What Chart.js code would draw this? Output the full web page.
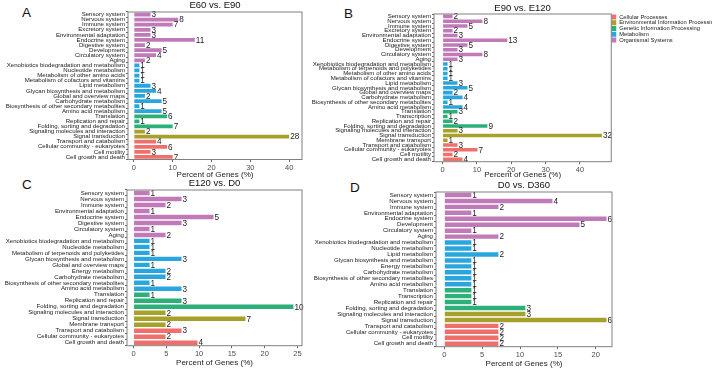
<!DOCTYPE html>
<html>
<head>
<meta charset="utf-8">
<script src="https://cdn.jsdelivr.net/npm/chart.js@4.4.1/dist/chart.umd.min.js"></script>
<style>
  body { margin: 0; background: #fff; width: 712px; height: 369px; position: relative; overflow: hidden; font-family: 'Liberation Sans', Arial, sans-serif; }
  canvas { position: absolute; }
  .lettre { position: absolute; font-size: 13.5px; line-height: 13.5px; color: #111; }
</style>
</head>
<body>
<div class="lettre" style="left:22px;top:6px">A</div>
<div class="lettre" style="left:344px;top:7px">B</div>
<div class="lettre" style="left:22px;top:178px">C</div>
<div class="lettre" style="left:350px;top:181px">D</div>
<canvas id="graphique-a" width="356" height="180" style="left:0;top:0"></canvas>
<canvas id="graphique-b" width="415" height="180" style="left:300px;top:0"></canvas>
<canvas id="graphique-c" width="356" height="193" style="left:0;top:175px"></canvas>
<canvas id="graphique-d" width="412" height="194" style="left:300px;top:175px"></canvas>
<script>
// Les 5 grandes familles KEGG (ordre de la légende)
const GROUPES = ['Cellular Processes', 'Environmental Information Processing', 'Genetic Information Processing', 'Metabolism', 'Organismal Systems'];
const COULEURS = ['#EE6F6C', '#A7A12A', '#2CAF78', '#2AA6DE', '#C07AB8'];

const cellular = ['Transport and catabolism', 'Cellular community - eukaryotes', 'Cell motility', 'Cell growth and death'];
const environnement = ['Signaling molecules and interaction', 'Signal transduction', 'Membrane transport'];
const genetique = ['Translation', 'Transcription', 'Replication and repair', 'Folding, sorting and degradation'];
const metabolisme = ['Xenobiotics biodegradation and metabolism', 'Nucleotide metabolism', 'Metabolism of other amino acids',
  'Metabolism of cofactors and vitamins', 'Metabolism of terpenoids and polyketides', 'Lipid metabolism',
  'Glycan biosynthesis and metabolism', 'Global and overview maps', 'Energy metabolism', 'Carbohydrate metabolism',
  'Biosynthesis of other secondary metabolites', 'Amino acid metabolism'];
const organismal = ['Sensory system', 'Nervous system', 'Immune system', 'Excretory system', 'Environmental adaptation',
  'Endocrine system', 'Digestive system', 'Development', 'Circulatory system', 'Aging'];
const membres = [cellular, environnement, genetique, metabolisme, organismal];

// A : E60 vs. E90
const categoriesA = ['Sensory system', 'Nervous system', 'Immune system', 'Excretory system', 'Environmental adaptation',
  'Endocrine system', 'Digestive system', 'Development', 'Circulatory system', 'Aging',
  'Xenobiotics biodegradation and metabolism', 'Nucleotide metabolism', 'Metabolism of other amino acids',
  'Metabolism of cofactors and vitamins', 'Lipid metabolism', 'Glycan biosynthesis and metabolism', 'Global and overview maps',
  'Carbohydrate metabolism', 'Biosynthesis of other secondary metabolites', 'Amino acid metabolism',
  'Translation', 'Replication and repair', 'Folding, sorting and degradation',
  'Signaling molecules and interaction', 'Signal transduction',
  'Transport and catabolism', 'Cellular community - eukaryotes', 'Cell motility', 'Cell growth and death'];
const genesA = [3, 8, 7, 3, 3, 11, 2, 5, 4, 2, 1, 1, 1, 1, 3, 4, 2, 5, 1, 5, 6, 1, 7, 2, 28, 4, 6, 3, 7];
const totalA = 70;
const ticksA = [0, 10, 20, 30, 40];

// B : E90 vs. E120
const categoriesB = ['Sensory system', 'Nervous system', 'Immune system', 'Excretory system', 'Environmental adaptation',
  'Endocrine system', 'Digestive system', 'Development', 'Circulatory system', 'Aging',
  'Xenobiotics biodegradation and metabolism', 'Metabolism of terpenoids and polyketides', 'Metabolism of other amino acids',
  'Metabolism of cofactors and vitamins', 'Lipid metabolism', 'Glycan biosynthesis and metabolism', 'Global and overview maps',
  'Carbohydrate metabolism', 'Biosynthesis of other secondary metabolites', 'Amino acid metabolism',
  'Translation', 'Transcription', 'Replication and repair', 'Folding, sorting and degradation',
  'Signaling molecules and interaction', 'Signal transduction', 'Membrane transport',
  'Transport and catabolism', 'Cellular community - eukaryotes', 'Cell motility', 'Cell growth and death'];
const genesB = [2, 8, 5, 2, 3, 13, 5, 3, 8, 3, 1, 1, 1, 1, 3, 5, 2, 4, 1, 4, 3, 1, 2, 9, 3, 32, 1, 3, 7, 2, 4];
const totalB = 69;
const ticksB = [0, 10, 20, 30, 40];

// C : E120 vs. D0
const categoriesC = ['Sensory system', 'Nervous system', 'Immune system', 'Environmental adaptation',
  'Endocrine system', 'Digestive system', 'Circulatory system', 'Aging',
  'Xenobiotics biodegradation and metabolism', 'Nucleotide metabolism', 'Metabolism of terpenoids and polyketides',
  'Glycan biosynthesis and metabolism', 'Global and overview maps', 'Energy metabolism', 'Carbohydrate metabolism',
  'Biosynthesis of other secondary metabolites', 'Amino acid metabolism',
  'Translation', 'Replication and repair', 'Folding, sorting and degradation',
  'Signaling molecules and interaction', 'Signal transduction', 'Membrane transport',
  'Transport and catabolism', 'Cellular community - eukaryotes', 'Cell growth and death'];
const genesC = [1, 3, 2, 1, 5, 3, 1, 2, 1, 1, 1, 3, 1, 2, 2, 1, 3, 1, 3, 10, 2, 7, 2, 3, 2, 4];
const totalC = 41;
const ticksC = [0, 5, 10, 15, 20, 25];

// D : D0 vs. D360
const categoriesD = ['Sensory system', 'Nervous system', 'Immune system', 'Environmental adaptation',
  'Endocrine system', 'Development', 'Circulatory system', 'Aging',
  'Xenobiotics biodegradation and metabolism', 'Nucleotide metabolism', 'Lipid metabolism',
  'Glycan biosynthesis and metabolism', 'Energy metabolism', 'Carbohydrate metabolism',
  'Biosynthesis of other secondary metabolites', 'Amino acid metabolism',
  'Translation', 'Transcription', 'Replication and repair', 'Folding, sorting and degradation',
  'Signaling molecules and interaction', 'Signal transduction',
  'Transport and catabolism', 'Cellular community - eukaryotes', 'Cell motility', 'Cell growth and death'];
const genesD = [1, 4, 2, 1, 6, 5, 1, 2, 1, 1, 2, 1, 1, 1, 1, 1, 1, 1, 1, 3, 3, 6, 2, 2, 2, 2];
const totalD = 28;
const ticksD = [0, 5, 10, 15, 20];

Chart.defaults.font.family = "'Liberation Sans', Arial, sans-serif";
Chart.defaults.color = '#222';

function groupe(nom) {
  return membres.findIndex(l => l.includes(nom));
}

// nombre de gènes écrit au bout de chaque barre
const valeurs = {
  id: 'valeurs',
  afterDatasetsDraw(chart) {
    const ctx = chart.ctx;
    ctx.save();
    ctx.font = "8.2px 'Liberation Sans', Arial, sans-serif";
    ctx.fillStyle = '#222';
    ctx.textBaseline = 'middle';
    chart.data.datasets.forEach((ds, i) => {
      chart.getDatasetMeta(i).data.forEach((barre, j) => {
        const n = ds.comptes[j];
        if (n === null) { return; }
        ctx.fillText(String(n), barre.x + 1, barre.y + 0.5);
      });
    });
    ctx.restore();
  }
};

// cadre gris autour du panneau + titre centré sur la zone de tracé
const encadre = {
  id: 'encadre',
  afterDraw(chart, args, opts) {
    const { ctx, chartArea: a } = chart;
    ctx.save();
    ctx.strokeStyle = '#808080';
    ctx.lineWidth = 1;
    ctx.strokeRect(a.left, a.top, a.right - a.left, a.bottom - a.top);
    ctx.font = "9.5px 'Liberation Sans', Arial, sans-serif";
    ctx.fillStyle = '#111';
    ctx.textAlign = 'center';
    ctx.textBaseline = 'middle';
    ctx.fillText(opts.titre, (a.left + a.right) / 2, a.top - opts.ecart);
    ctx.restore();
  }
};

function dessine(id, titre, cats, genes, total, graduations, xmin, xmax, cadre, legende) {
  const jeux = GROUPES.map((g, k) => ({
    label: g,
    data: cats.map((c, i) => (groupe(c) === k ? genes[i] / total * 100 : null)),
    comptes: cats.map((c, i) => (groupe(c) === k ? genes[i] : null)),
    backgroundColor: COULEURS[k],
    borderWidth: 0,
    grouped: false,
    barPercentage: 0.74,
    categoryPercentage: 1
  }));

  const ctx = document.getElementById(id).getContext('2d');
  return new Chart(ctx, {
    type: 'bar',
    data: { labels: cats, datasets: jeux },
    options: {
      indexAxis: 'y',
      responsive: false,
      animation: false,
      events: [],
      layout: { padding: cadre.padding },
      scales: {
        x: {
          type: 'linear', min: xmin, max: xmax,
          afterFit: s => { s.height = cadre.xh; },
          afterBuildTicks: s => { s.ticks = graduations.map(v => ({ value: v })); },
          grid: { drawOnChartArea: false, tickLength: 2.5, color: '#666' },
          border: { display: false },
          ticks: { font: { size: 7.5 }, color: '#4d4d4d', padding: 1, maxRotation: 0 },
          title: { display: true, text: 'Percent of Genes (%)', font: { size: 8 }, color: '#222', padding: 0 }
        },
        y: {
          afterFit: s => { s.width = cadre.yw; },
          grid: { drawOnChartArea: false, tickLength: 2, color: '#666' },
          border: { display: false },
          ticks: { autoSkip: false, font: { size: 6.1 }, color: '#1a1a1a', padding: 1 }
        }
      },
      plugins: {
        legend: legende ? {
          display: true, position: 'right', align: 'start',
          labels: { boxWidth: 5, boxHeight: 5, padding: 0, font: { size: 5.8 }, color: '#222' }
        } : { display: false },
        tooltip: { enabled: false },
        encadre: { titre: titre, ecart: cadre.te }
      }
    },
    plugins: [valeurs, encadre]
  });
}

dessine('graphique-a', 'E60 vs. E90', categoriesA, genesA, totalA, ticksA, -1.5, 43.3,
  { padding: { top: 12, right: 54, left: 0, bottom: 0 }, yw: 128, xh: 20.5, te: 6.5 }, false);
dessine('graphique-b', 'E90 vs. E120', categoriesB, genesB, totalB, ticksB, -2.5, 49.1,
  { padding: { top: 14, right: 0, left: 0, bottom: 0 }, yw: 134, xh: 18.3, te: 6 }, true);
dessine('graphique-c', 'E120 vs. D0', categoriesC, genesC, totalC, ticksC, -1.0, 25.7,
  { padding: { top: 15, right: 54, left: 0, bottom: 0 }, yw: 127, xh: 22.3, te: 6.5 }, false);
dessine('graphique-d', 'D0 vs. D360', categoriesD, genesD, totalD, ticksD, -1.1, 22.15,
  { padding: { top: 17, right: 100, left: 0, bottom: 0 }, yw: 136, xh: 22.3, te: 7 }, false);
</script>
</body>
</html>
